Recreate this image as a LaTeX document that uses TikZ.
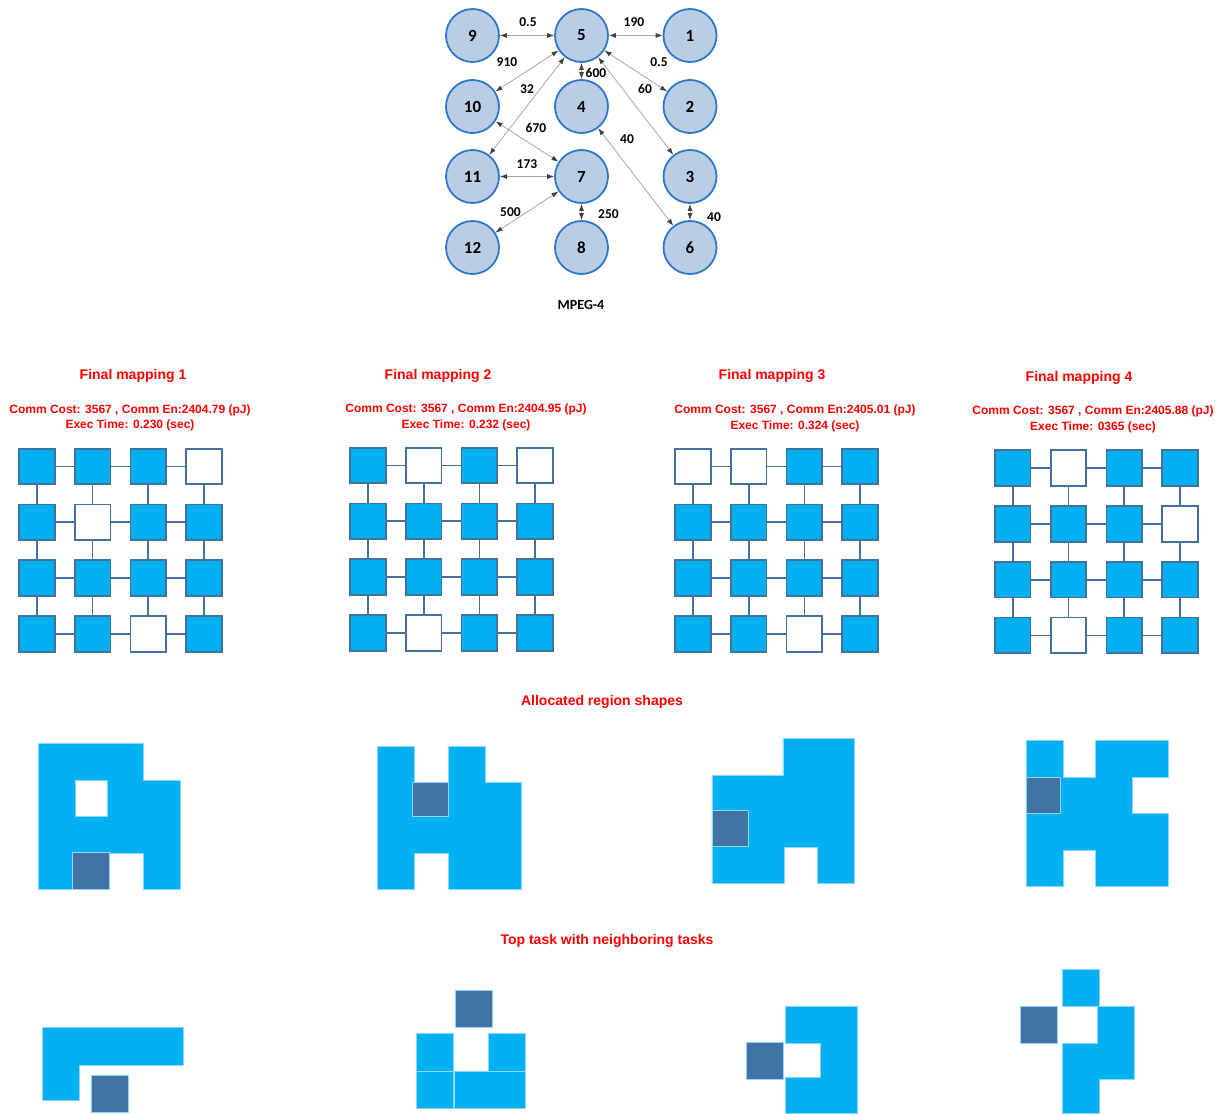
\documentclass[tikz,border=0pt]{standalone}
\usepackage{fontspec}
\setmainfont{Liberation Sans}
\newfontfamily\calfont{Carlito}
\usetikzlibrary{arrows.meta}
\definecolor{nodefill}{HTML}{B9CDE5}
\definecolor{nodeline}{HTML}{2E78C6}
\definecolor{edgegray}{HTML}{A6A6A6}
\definecolor{tipgray}{HTML}{404040}
\definecolor{cellfill}{HTML}{00B0F0}
\definecolor{cellline}{HTML}{41719C}
\definecolor{darkcell}{HTML}{4173A5}
\definecolor{seam}{HTML}{8FD8F8}
\definecolor{titlered}{HTML}{FF0000}
\newcommand\meshrow[8]{%
  \node[#5] (#1-#4-0) at (#2,#3) {};
  \node[#6] (#1-#4-1) at ({#2+55.8},#3) {};
  \node[#7] (#1-#4-2) at ({#2+111.6},#3) {};
  \node[#8] (#1-#4-3) at ({#2+167.4},#3) {};
}
\newcommand\meshlinks[1]{%
  \foreach \ii in {0,...,3}{%
    \foreach \jj [evaluate=\jj as \kk using int(\jj+1)] in {0,1,2}{%
      \draw[link] (#1-\ii-\jj) -- (#1-\ii-\kk);
      \draw[link] (#1-\jj-\ii) -- (#1-\kk-\ii);
    }%
  }%
}
\begin{document}
\begin{tikzpicture}[x=1pt,y=-1pt,
  task/.style={circle, draw=nodeline, line width=1.8pt, fill=nodefill, minimum size=53pt, inner sep=0pt, font=\calfont\bfseries\fontsize{17}{17}\selectfont},
  elabel/.style={font=\calfont\bfseries\fontsize{13.5}{14}\selectfont, inner sep=0pt},
  comm/.style={draw=edgegray, line width=0.8pt, arrows={Latex[length=7pt,width=5pt,color=tipgray]-Latex[length=7pt,width=5pt,color=tipgray]}},
  core/.style={rectangle, draw=cellline, line width=1.8pt, minimum size=35.7pt, inner sep=0pt},
  busy/.style={core, fill=cellfill},
  idle/.style={core, fill=white},
  link/.style={draw=cellline, line width=1.8pt},
  title/.style={text=titlered, font=\bfseries\fontsize{14}{16}\selectfont, inner sep=0pt},
  stats/.style={text=titlered, font=\bfseries\fontsize{12}{15.5}\selectfont, align=center, inner sep=0pt},
  region/.style={fill=cellfill, draw=seam, line width=0.6pt},
  top/.style={fill=darkcell, draw=seam, line width=0.6pt},
]
\useasboundingbox (0,0) rectangle (1225,1113);

% ---------- task graph ----------
\node[task] (n9)  at (472.5,35.5) {9};
\node[task] (n5)  at (581.5,35.5) {5};
\node[task] (n1)  at (690,35.5) {1};
\node[task] (n10) at (472.5,106.5) {10};
\node[task] (n4)  at (581.5,106.5) {4};
\node[task] (n2)  at (690,106.5) {2};
\node[task] (n11) at (472.5,176.5) {11};
\node[task] (n7)  at (581.5,176.5) {7};
\node[task] (n3)  at (690,176.5) {3};
\node[task] (n12) at (472.5,247.5) {12};
\node[task] (n8)  at (581.5,247.5) {8};
\node[task] (n6)  at (690,247.5) {6};

\draw[comm] (n9) -- (n5);
\draw[comm] (n5) -- (n1);
\draw[comm] (n5) -- (n10);
\draw[comm] (n5) -- (n2);
\draw[comm] (n5) -- (n4);
\draw[comm] (n5) -- (n11);
\draw[comm] (n5) -- (n3);
\draw[comm] (n10) -- (n7);
\draw[comm] (n4) -- (n6);
\draw[comm] (n11) -- (n7);
\draw[comm] (n7) -- (n12);
\draw[comm] (n7) -- (n8);
\draw[comm] (n3) -- (n6);

\node[elabel] (w95)  at (528,22.5) {0.5};
\node[elabel] (w51)  at (634,22) {190};
\node[elabel] (w510) at (507,62) {910};
\node[elabel] (w52)  at (659,62) {0.5};
\node[elabel] (w54)  at (596,73) {600};
\node[elabel] (w511) at (527,89) {32};
\node[elabel] (w53)  at (645,89) {60};
\node[elabel] (w107) at (536,128) {670};
\node[elabel] (w46)  at (627,139.5) {40};
\node[elabel] (w117) at (527,164) {173};
\node[elabel] (w712) at (510.5,212) {500};
\node[elabel] (w78)  at (608.5,214) {250};
\node[elabel] (w36)  at (714,217) {40};
\node[font=\calfont\bfseries\fontsize{14}{14}\selectfont, inner sep=0pt] (cap) at (581,305) {MPEG-4};

% ---------- final mappings ----------
\node[title] (t1) at (133,376) {Final mapping 1};
\node[stats] (s1) at (130,418) {Comm Cost: 3567 , Comm En:2404.79 (pJ)\\Exec Time: 0.230 (sec)};
\node[title] (t2) at (438,376) {Final mapping 2};
\node[stats] (s2) at (466,417.5) {Comm Cost: 3567 , Comm En:2404.95 (pJ)\\Exec Time: 0.232 (sec)};
\node[title] (t3) at (772,376) {Final mapping 3};
\node[stats] (s3) at (795,418.5) {Comm Cost: 3567 , Comm En:2405.01 (pJ)\\Exec Time: 0.324 (sec)};
\node[title] (t4) at (1079,377.5) {Final mapping 4};
\node[stats] (s4) at (1093,419.5) {Comm Cost: 3567 , Comm En:2405.88 (pJ)\\Exec Time: 0365 (sec)};

\meshrow{ga}{36.75}{466.5}{0}{busy}{busy}{busy}{idle}
\meshrow{ga}{36.75}{522.3}{1}{busy}{idle}{busy}{busy}
\meshrow{ga}{36.75}{578.1}{2}{busy}{busy}{busy}{busy}
\meshrow{ga}{36.75}{633.9}{3}{busy}{busy}{idle}{busy}
\meshlinks{ga}

\meshrow{gb}{367.8}{465.5}{0}{busy}{idle}{busy}{idle}
\meshrow{gb}{367.8}{521.3}{1}{busy}{busy}{busy}{busy}
\meshrow{gb}{367.8}{577.1}{2}{busy}{busy}{busy}{busy}
\meshrow{gb}{367.8}{632.9}{3}{busy}{idle}{busy}{busy}
\meshlinks{gb}

\meshrow{gc}{692.8}{466.5}{0}{idle}{idle}{busy}{busy}
\meshrow{gc}{692.8}{522.3}{1}{busy}{busy}{busy}{busy}
\meshrow{gc}{692.8}{578.1}{2}{busy}{busy}{busy}{busy}
\meshrow{gc}{692.8}{633.9}{3}{busy}{busy}{idle}{busy}
\meshlinks{gc}

\meshrow{gd}{1012.7}{468}{0}{busy}{idle}{busy}{busy}
\meshrow{gd}{1012.7}{523.8}{1}{busy}{busy}{busy}{idle}
\meshrow{gd}{1012.7}{579.6}{2}{busy}{busy}{busy}{busy}
\meshrow{gd}{1012.7}{635.4}{3}{busy}{idle}{busy}{busy}
\meshlinks{gd}

% ---------- allocated region shapes ----------
\node[title] (t5) at (602,702) {Allocated region shapes};

\path[region, even odd rule] (38.5,743) -- (143,743) -- (143,780) -- (180,780) -- (180,889.5) -- (143,889.5) -- (143,853.5) -- (109.5,853.5) -- (109.5,889.5) -- (38.5,889.5) -- cycle
  (75.5,780.3) rectangle (106.8,816.7);
\path[top] (72,852.5) rectangle (109.5,889.5);

\path[region] (377.2,746) -- (414.4,746) -- (414.4,782) -- (448,782) -- (448,746) -- (485.2,746) -- (485.2,782) -- (521.1,782) -- (521.1,889.7) -- (448,889.7) -- (448,853.7) -- (414.4,853.7) -- (414.4,889.7) -- (377.2,889.7) -- cycle;
\path[top] (412.4,782) rectangle (448,816.7);

\path[region] (782.8,738) -- (854.2,738) -- (854.2,883.7) -- (817.5,883.7) -- (817.5,847.5) -- (784,847.5) -- (784,883.7) -- (711.8,883.7) -- (711.8,775) -- (782.8,775) -- cycle;
\path[top] (711.8,810.7) rectangle (748.1,846.7);

\path[region] (1025.9,740.3) -- (1062.9,740.3) -- (1062.9,777) -- (1095.3,777) -- (1095.3,740.3) -- (1168.6,740.3) -- (1168.6,777) -- (1132.3,777) -- (1132.3,813.3) -- (1168.6,813.3) -- (1168.6,886.3) -- (1095.3,886.3) -- (1095.3,850) -- (1062.9,850) -- (1062.9,886.3) -- (1025.9,886.3) -- cycle;
\path[top] (1025.9,777) rectangle (1060.5,813.3);

% ---------- top task with neighbouring tasks ----------
\node[title] (t6) at (607,941) {Top task with neighboring tasks};

\path[region] (42,1027.7) -- (183.5,1027.7) -- (183.5,1065) -- (79.1,1065) -- (79.1,1100.7) -- (42,1100.7) -- cycle;
\path[top] (91.3,1075) rectangle (128.5,1112);

\path[top] (455.5,990.3) rectangle (492.7,1027.7);
\path[region] (416,1033.7) rectangle (453,1071);
\path[region] (488.7,1033.7) rectangle (525.5,1071);
\path[region] (416,1071.7) rectangle (453,1108.7);
\path[region] (454.7,1071.7) rectangle (525.5,1108.7);

\path[region] (785.1,1006) -- (857.7,1006) -- (857.7,1113) -- (785.1,1113) -- (785.1,1077.3) -- (820.6,1077.3) -- (820.6,1043.3) -- (785.1,1043.3) -- cycle;
\path[top] (746.2,1042.3) rectangle (782.8,1079.3);

\path[region] (1062.5,969.7) rectangle (1099.6,1006.7);
\path[region] (1097.2,1006.3) -- (1134.3,1006.3) -- (1134.3,1079.3) -- (1099.6,1079.3) -- (1099.6,1113) -- (1062.5,1113) -- (1062.5,1043.3) -- (1097.2,1043.3) -- cycle;
\path[top] (1020.5,1006.3) rectangle (1057.5,1043.7);
\end{tikzpicture}
\end{document}
